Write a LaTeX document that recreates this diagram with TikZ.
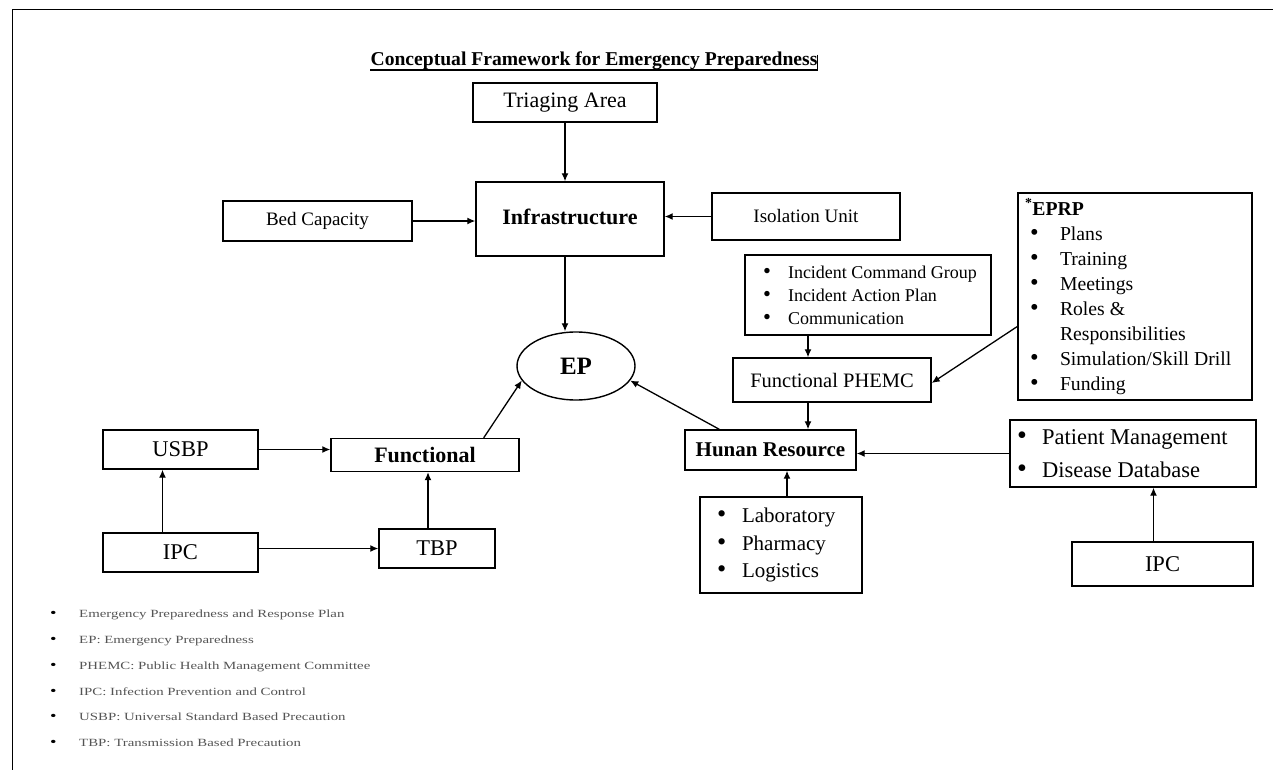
\documentclass[tikz,border=0pt]{standalone}
\usepackage{fontspec}
\setmainfont{Liberation Serif}
\newfontfamily\legendfont[FakeStretch=1.35]{Liberation Serif}
\usetikzlibrary{arrows.meta,shapes.geometric}
\definecolor{legendgray}{rgb}{0.33,0.33,0.33}
\newcommand{\fsz}[2]{\fontsize{#1}{#2}\selectfont}
\newcommand{\bul}[1][25bp]{\makebox[#1][l]{\scalebox{1.25}{\textbullet}}}
% box of width #1, text starting #2 from the left
\newcommand{\itemsbox}[3]{\parbox{#1}{\raggedright\leftskip=#2\relax #3}}

\begin{document}
\begin{tikzpicture}[x=1bp, y=-1bp,
  box/.style={draw, line width=1.4bp, inner sep=0pt},
  arr/.style={-{Latex[length=8bp,width=7bp]}, line width=1.3bp}]
\useasboundingbox (0,0) rectangle (1273,770);
% page frame
\draw[line width=1bp] (1273,10) -- (12,10) -- (12,770);

\node[inner sep=0pt, font=\bfseries\fsz{19.6bp}{24bp}] (title) at (594,61)
  {Conceptual Framework for Emergency Preparedness};
\draw[line width=1.6bp] ([yshift=-4bp]title.base west) -- ([yshift=-4bp]title.base east);
\draw[line width=1bp] ([yshift=-3bp]title.north east) -- ([yshift=-5bp]title.base east);

% infrastructure branch
\node[box, minimum width=184bp, minimum height=39bp, font=\fsz{22bp}{26bp}] (triage) at (565,102.5) {Triaging Area};
\node[box, minimum width=188bp, minimum height=74bp, font=\bfseries\fsz{22bp}{26bp}] (infra) at (570,219) {\raisebox{5bp}{Infrastructure}};
\node[box, minimum width=189bp, minimum height=40bp, font=\fsz{19bp}{23bp}] (bed) at (317.5,221) {Bed Capacity};
\node[box, minimum width=188bp, minimum height=47bp, font=\fsz{19bp}{23bp}] (iso) at (806,216.5) {Isolation Unit};
\node[ellipse, draw, line width=1.4bp, minimum width=118bp, minimum height=68bp, inner sep=0pt,
  font=\bfseries\fsz{25bp}{30bp}] (ep) at (576,366) {EP};

% functional branch
\node[box, minimum width=188bp, minimum height=33bp, font=\bfseries\fsz{22bp}{26bp}] (func) at (425,455) {Functional};
\node[box, minimum width=155bp, minimum height=39bp, font=\fsz{22.5bp}{26bp}] (usbp) at (180.5,449.5) {USBP};
\node[box, minimum width=155bp, minimum height=39bp, font=\fsz{22.5bp}{26bp}] (ipcl) at (180.5,552.5) {IPC};
\node[box, minimum width=116bp, minimum height=39bp, font=\fsz{22.5bp}{26bp}] (tbp) at (437,548.5) {TBP};

% human resource branch
\node[box, minimum height=80bp] (incident) at (868,295)
  {\itemsbox{246bp}{18bp}{\fsz{18bp}{23bp}\bul Incident Command Group\\ \bul Incident Action Plan\\ \bul Communication}};
\node[box, minimum width=198bp, minimum height=44bp, font=\fsz{20.5bp}{24bp}] (phemc) at (832,380) {Functional PHEMC};
\node[box, minimum height=207bp] (eprp) at (1135,296.5)
  {\itemsbox{234bp}{12bp}{\fsz{19.7bp}{25bp}\hspace*{-5bp}\textbf{\textsuperscript{*}EPRP}\\
   \bul[30bp]Plans\\ \bul[30bp]Training\\ \bul[30bp]Meetings\\ \bul[30bp]Roles \&\\
   \hspace*{30bp}Responsibilities\\ \bul[30bp]Simulation/Skill Drill\\ \bul[30bp]Funding}};
\node[box, minimum width=171bp, minimum height=40bp, font=\bfseries\fsz{21bp}{26bp}] (hr) at (770.5,450) {Hunan Resource};
\node[box, minimum height=67bp] (patient) at (1133,453.5)
  {\itemsbox{246bp}{7bp}{\fsz{22.5bp}{33bp}\bul Patient Management\\ \bul Disease Database}};
\node[box, minimum height=96bp] (lab) at (781,545)
  {\itemsbox{162bp}{17bp}{\fsz{21bp}{27.5bp}\bul Laboratory\\ \bul Pharmacy\\ \bul Logistics}};
\node[box, minimum width=181bp, minimum height=44bp, font=\fsz{22.5bp}{26bp}] (ipcr) at (1162.5,564) {IPC};

% connectors
\draw[arr] (triage.south) -- (triage.south |- infra.north);
\draw[arr] (bed.east) -- (bed.east -| infra.west);
\draw[arr] (iso.west) -- (iso.west -| infra.east);
\draw[arr] (infra.south -| triage) -- (ep.north -| triage);
\draw[arr] ([xshift=-36bp]func.north east) -- (ep.195);
\draw[arr] ([xshift=35bp]hr.north west) -- (ep.-15);
\draw[arr] (usbp.east) -- (usbp.east -| func.west);
\draw[arr] ([xshift=-18bp]ipcl.north) -- ([xshift=-18bp]usbp.south);
\draw[arr] (tbp.west -| ipcl.east) -- (tbp.west);
\draw[arr] ([xshift=-9bp]tbp.north) -- ([xshift=-9bp]tbp.north |- func.south);
\draw[arr] ([xshift=-60bp]incident.south) -- ([xshift=-60bp]incident.south |- phemc.north);
\draw[arr] ([yshift=-30bp]eprp.west) -- ([yshift=-3bp]phemc.east);
\draw[arr] ([xshift=-24bp]phemc.south) -- ([xshift=-24bp]phemc.south |- hr.north);
\draw[arr] (patient.west) -- (patient.west -| hr.east);
\draw[arr] ([xshift=6bp]lab.north) -- ([xshift=6bp]lab.north |- hr.south);
\draw[arr] ([xshift=-9bp]ipcr.north) -- ([xshift=-9bp]ipcr.north |- patient.south);

% legend
\node[anchor=west, inner sep=0pt] (legend) at (50,678.5)
  {\itemsbox{600bp}{0bp}{\legendfont\fsz{11bp}{25.8bp}%
   \bul[29bp]\textcolor{legendgray}{Emergency Preparedness and Response Plan}\\
   \bul[29bp]\textcolor{legendgray}{EP: Emergency Preparedness}\\
   \bul[29bp]\textcolor{legendgray}{PHEMC: Public Health Management Committee}\\
   \bul[29bp]\textcolor{legendgray}{IPC: Infection Prevention and Control}\\
   \bul[29bp]\textcolor{legendgray}{USBP: Universal Standard Based Precaution}\\
   \bul[29bp]\textcolor{legendgray}{TBP: Transmission Based Precaution}}};
\end{tikzpicture}
\end{document}
